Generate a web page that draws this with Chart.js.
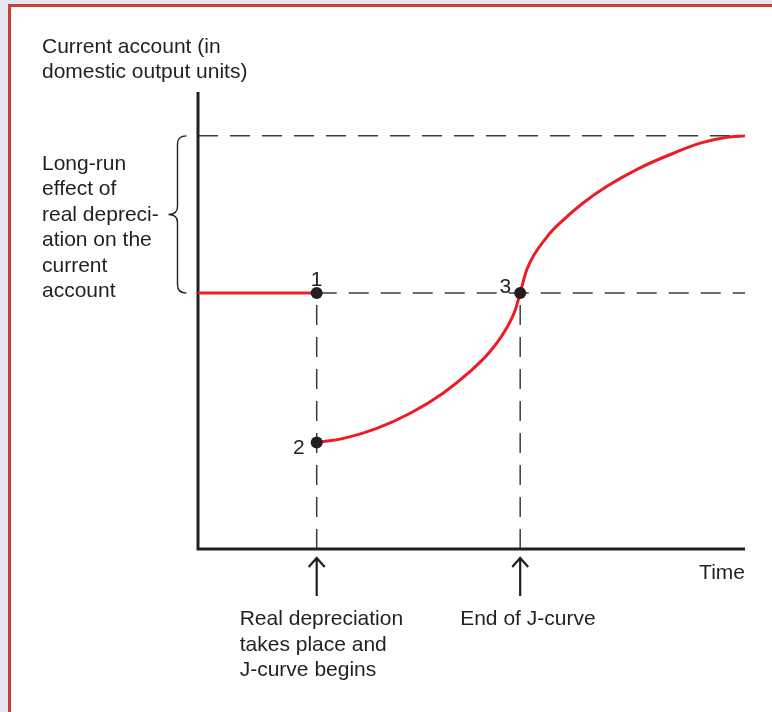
<!DOCTYPE html>
<html>
<head>
<meta charset="utf-8">
<title>Curva J</title>
<script src="https://cdn.jsdelivr.net/npm/chart.js@4.4.1/dist/chart.umd.min.js"></script>
<style>
  html, body { margin: 0; padding: 0; background: #e6e6f0; overflow: hidden; }
  #marco { position: absolute; left: 8px; top: 4px; width: 800px; height: 800px; background: #fff;
           border-left: 3px solid #c8403a; border-top: 3px solid #c8403a; }
  #grafica { position: absolute; left: 0; top: 0; }
</style>
</head>
<body>
<div id="marco"></div>
<canvas id="grafica" width="772" height="712"></canvas>
<script>
// ejes en unidades arbitrarias 0-100
const tiempoDepreciacion = 21.7;
const tiempoFinJ = 58.9;
const nivelInicial = 56;
const nivelLargoPlazo = 90.4;

// curva J desde el punto 2 hasta el nivel de largo plazo
const curvaX = [21.7, 26.6, 32.7, 38.8, 44.8, 49.7, 53.4, 56.4, 58.0, 58.9, 60.1, 63.8, 66.8, 70.4, 74.7, 80.8, 86.9, 91.8, 96.7, 100];
const curvaY = [23.3, 24.2, 26.4, 29.7, 34.1, 38.8, 43.2, 48.3, 52.3, 56.0, 61.1, 68.3, 72.0, 75.7, 79.3, 83.4, 86.6, 88.8, 90.1, 90.4];

const puntosX = [tiempoDepreciacion, tiempoDepreciacion, tiempoFinJ];
const puntosY = [nivelInicial, curvaY[0], nivelInicial];
const puntosEtiqueta = ['1', '2', '3'];

const tituloEje = ['Current account (in', 'domestic output units)'];
const notaLargoPlazo = ['Long-run', 'effect of', 'real depreci-', 'ation on the', 'current', 'account'];
const notaDepreciacion = ['Real depreciation', 'takes place and', 'J-curve begins'];
const notaFinJ = ['End of J-curve'];
const etiquetaTiempo = 'Time';

const ROJO = '#ed1c24';
const NEGRO = '#231f20';
const GRIS = '#3c3c3c';
const FUENTE = '21px "Liberation Sans", Arial, sans-serif';

function aPuntos(xs, ys) {
  return xs.map((x, i) => ({ x: x, y: ys[i] }));
}

function linea(data, color, ancho, dash) {
  return {
    data: data,
    showLine: true,
    borderColor: color,
    borderWidth: ancho,
    borderDash: dash || [],
    pointRadius: 0,
    pointHoverRadius: 0,
    fill: false,
    clip: false,
    tension: 0
  };
}

// textos, llave y flechas
const anotaciones = {
  id: 'anotaciones',
  afterDraw(chart) {
    const ctx = chart.ctx;
    const xs = chart.scales.x;
    const ys = chart.scales.y;
    const area = chart.chartArea;

    ctx.save();
    ctx.font = FUENTE;
    ctx.fillStyle = NEGRO;
    ctx.textBaseline = 'alphabetic';
    ctx.textAlign = 'left';

    tituloEje.forEach((t, i) => ctx.fillText(t, 42, area.top - 39 + i * 25));

    const yArriba = ys.getPixelForValue(nivelLargoPlazo);
    const yAbajo = ys.getPixelForValue(nivelInicial);
    notaLargoPlazo.forEach((t, i) => ctx.fillText(t, 42, yArriba + 34 + i * 25.5));

    const xDep = xs.getPixelForValue(tiempoDepreciacion);
    const xFin = xs.getPixelForValue(tiempoFinJ);
    notaDepreciacion.forEach((t, i) => ctx.fillText(t, xDep - 77, area.bottom + 76 + i * 25.5));
    notaFinJ.forEach((t, i) => ctx.fillText(t, xFin - 60, area.bottom + 76 + i * 25.5));

    ctx.textAlign = 'right';
    ctx.fillText(etiquetaTiempo, area.right, area.bottom + 30);

    // numeros de los puntos
    const px = puntosX.map(v => xs.getPixelForValue(v));
    const py = puntosY.map(v => ys.getPixelForValue(v));
    ctx.textAlign = 'center';
    ctx.fillText(puntosEtiqueta[0], px[0], py[0] - 7);
    ctx.textAlign = 'right';
    ctx.fillText(puntosEtiqueta[1], px[1] - 12, py[1] + 11);
    ctx.fillText(puntosEtiqueta[2], px[2] - 9, py[2]);

    // llave
    const bx = area.left - 20.5;
    const fin = area.left - 11.5;
    const punta = area.left - 29.5;
    const ym = (yArriba + yAbajo) / 2;
    ctx.strokeStyle = NEGRO;
    ctx.lineWidth = 1.4;
    ctx.beginPath();
    ctx.moveTo(fin, yArriba);
    ctx.quadraticCurveTo(bx, yArriba, bx, yArriba + 8);
    ctx.lineTo(bx, ym - 8);
    ctx.quadraticCurveTo(bx, ym, punta, ym);
    ctx.quadraticCurveTo(bx, ym, bx, ym + 8);
    ctx.lineTo(bx, yAbajo - 8);
    ctx.quadraticCurveTo(bx, yAbajo, fin, yAbajo);
    ctx.stroke();

    // flechas bajo el eje
    ctx.lineWidth = 2.2;
    [xDep, xFin].forEach(x => {
      const tope = area.bottom + 9;
      ctx.beginPath();
      ctx.moveTo(x, area.bottom + 47);
      ctx.lineTo(x, tope);
      ctx.moveTo(x - 8, tope + 9);
      ctx.lineTo(x, tope);
      ctx.lineTo(x + 8, tope + 9);
      ctx.stroke();
    });
    ctx.restore();
  }
};

const puntos = aPuntos(puntosX, puntosY);
const curva = aPuntos(curvaX, curvaY);

const dsPuntos = {
  data: puntos,
  showLine: false,
  pointRadius: 6,
  pointHoverRadius: 6,
  pointBackgroundColor: NEGRO,
  pointBorderWidth: 0,
  clip: false
};
const dsCurva = linea(curva, ROJO, 3);
dsCurva.cubicInterpolationMode = 'monotone';
const dsAntes = linea(aPuntos([0, tiempoDepreciacion], [nivelInicial, nivelInicial]), ROJO, 3);
const dsEjes = linea(aPuntos([0, 0, 100], [100, 0, 0]), NEGRO, 3);
dsEjes.borderJoinStyle = 'miter';

const DASH = [20, 12];
const dsLargo = linea(aPuntos([0, 100], [nivelLargoPlazo, nivelLargoPlazo]), GRIS, 1.5, DASH);
const dsMedio = linea(aPuntos([tiempoDepreciacion, 100], [nivelInicial, nivelInicial]), GRIS, 1.5, DASH);
const dsVert1 = linea(aPuntos([tiempoDepreciacion, tiempoDepreciacion], [0, nivelInicial]), GRIS, 1.5, DASH);
const dsVert2 = linea(aPuntos([tiempoFinJ, tiempoFinJ], [0, nivelInicial]), GRIS, 1.5, DASH);

const chart = new Chart(document.getElementById('grafica'), {
  type: 'scatter',
  data: {
    // el primero queda encima
    datasets: [dsPuntos, dsCurva, dsAntes, dsEjes, dsLargo, dsMedio, dsVert1, dsVert2]
  },
  options: {
    responsive: false,
    animation: false,
    events: [],
    layout: { padding: { left: 198, top: 92, right: 27, bottom: 163 } },
    plugins: { legend: { display: false }, tooltip: { enabled: false } },
    scales: {
      x: { type: 'linear', min: 0, max: 100, display: false },
      y: { type: 'linear', min: 0, max: 100, display: false }
    }
  },
  plugins: [anotaciones]
});
</script>
</body>
</html>
